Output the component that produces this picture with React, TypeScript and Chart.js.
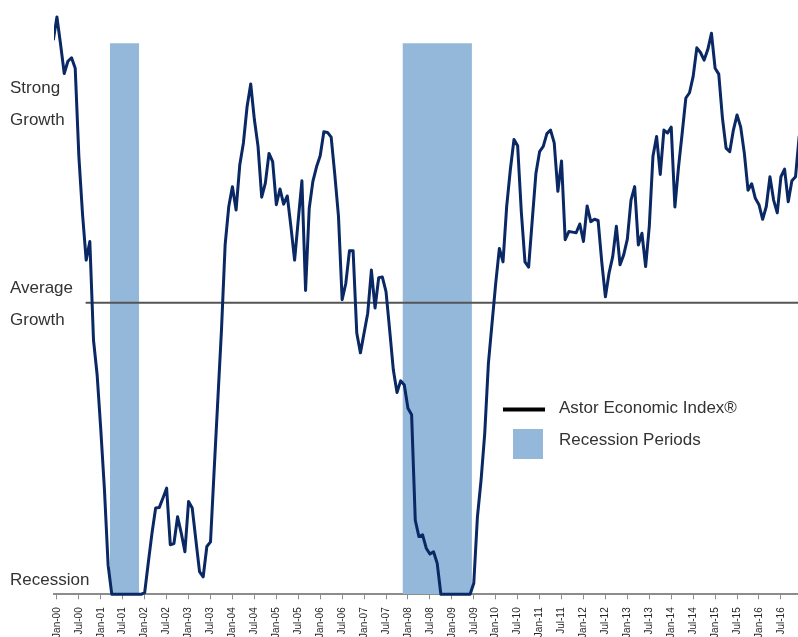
import React, { useEffect, useRef } from "react";
import { Chart, registerables } from "chart.js";

Chart.register(...registerables);

const FONT = '"Liberation Sans", Arial, Helvetica, sans-serif';
const MONTHS = ["Jan", "Feb", "Mar", "Apr", "May", "Jun", "Jul", "Aug", "Sep", "Oct", "Nov", "Dec"];

// ---- data (monthly index values, Recession = 0, Average Growth = 50) ----
const seriesStart = "Dec-99";
const idx1999 = [95.0];
const idx2000 = [99.0, 94.3, 89.3, 91.4, 92.0, 90.2, 75.1, 65.2, 57.3, 60.5, 43.6, 37.6];
const idx2001 = [28.2, 17.9, 5.0, 0, 0, 0, 0, 0, 0, 0, 0, 0];
const idx2002 = [0.3, 5.5, 10.5, 14.8, 14.9, 16.5, 18.2, 8.5, 8.7, 13.3, 10.5, 7.3];
const idx2003 = [15.9, 14.8, 9.3, 3.9, 3.0, 8.2, 9.0, 21.3, 33.3, 45.3, 59.9, 66.5];
const idx2004 = [69.9, 65.9, 73.6, 77.4, 83.6, 87.5, 81.4, 76.8, 68.1, 70.5, 75.6, 74.2];
const idx2005 = [66.8, 69.5, 66.9, 68.3, 63.0, 57.3, 64.2, 70.9, 52.1, 66.2, 70.8, 73.3];
const idx2006 = [75.2, 79.3, 79.2, 78.4, 71.9, 64.8, 50.5, 53.3, 58.9, 58.9, 44.8, 41.4];
const idx2007 = [44.8, 48.2, 55.6, 49.1, 54.3, 54.4, 51.9, 45.3, 38.5, 34.6, 36.6, 35.9];
const idx2008 = [31.9, 30.8, 12.7, 9.9, 10.2, 7.9, 6.9, 7.3, 5.3, 0, 0, 0];
const idx2009 = [0, 0, 0, 0, 0, 0, 1.9, 13.3, 19.6, 27.6, 39.6, 46.5];
const idx2010 = [53.3, 59.3, 57.0, 66.5, 72.8, 78.0, 76.9, 65.6, 57.0, 56.1, 64.2, 72.2];
const idx2011 = [75.9, 76.8, 79.0, 79.6, 77.4, 69.1, 74.3, 60.8, 62.2, 62.1, 62.0, 63.5];
const idx2012 = [60.5, 66.6, 63.9, 64.3, 64.1, 57.0, 51.0, 55.1, 57.9, 63.1, 56.5, 58.2];
const idx2013 = [60.9, 67.6, 69.9, 59.9, 61.9, 56.2, 63.1, 75.1, 78.5, 72.0, 79.6, 79.1];
const idx2014 = [80.1, 66.4, 73.3, 79.1, 85.1, 86.0, 88.8, 93.7, 92.9, 91.6, 93.4, 96.2];
const idx2015 = [90.2, 89.2, 81.7, 76.5, 75.9, 79.6, 82.2, 80.1, 75.6, 69.3, 70.4, 67.9];
const idx2016 = [66.8, 64.3, 66.5, 71.6, 67.6, 65.4, 71.6, 72.9, 67.3, 70.9, 71.6, 78.6];

const tickLabels = [
  "Jan-00", "Jul-00", "Jan-01", "Jul-01", "Jan-02", "Jul-02", "Jan-03", "Jul-03",
  "Jan-04", "Jul-04", "Jan-05", "Jul-05", "Jan-06", "Jul-06", "Jan-07", "Jul-07",
  "Jan-08", "Jul-08", "Jan-09", "Jul-09", "Jan-10", "Jul-10", "Jan-11", "Jul-11",
  "Jan-12", "Jul-12", "Jan-13", "Jul-13", "Jan-14", "Jul-14", "Jan-15", "Jul-15",
  "Jan-16", "Jul-16",
];

const recessionPeriods = [
  ["Apr-01", "Nov-01"],
  ["Dec-07", "Jun-09"],
];
const recessionLevel = 94.5;
const averageGrowthLevel = 50;
const averageLineStart = 7.85; // months after Jan-00

const yLevelValues = [2.4, 49.7, 84.0];
const yLevelLabels = [["Recession"], ["Average", "Growth"], ["Strong", "Growth"]];

const seriesLabel = "Astor Economic Index\u00AE";
const recessionLabel = "Recession Periods";

// ---- helpers ----
function monthIndex(label: string): number {
  const [mon, yy] = label.split("-");
  let y = Number(yy);
  if (y >= 50) y -= 100;
  return y * 12 + MONTHS.indexOf(mon);
}

const allValues = [
  ...idx1999, ...idx2000, ...idx2001, ...idx2002, ...idx2003, ...idx2004, ...idx2005,
  ...idx2006, ...idx2007, ...idx2008, ...idx2009, ...idx2010, ...idx2011, ...idx2012,
  ...idx2013, ...idx2014, ...idx2015, ...idx2016,
];

const LINE_COLOR = "#0a2864";
const RECESSION_COLOR = "#94b8da";
const TEXT_COLOR = "#333333";

const X_MIN = -0.8;
const X_MAX = 206.5;
const CANVAS_W = 812;
const CANVAS_H = 650;
const PLOT_LEFT = 54;
const PLOT_BOTTOM = 594.3;
const Y_LABEL_X = 10;
const Y_LABEL_LINE_HEIGHT = 31.6;

const labelsPlugin = {
  id: "astorLabels",
  afterDraw(chart: any) {
    const ctx = chart.ctx as CanvasRenderingContext2D;
    const ds = chart.data.datasets;
    const yScale = chart.scales.y;
    ctx.save();
    ctx.font = `17px ${FONT}`;
    ctx.textAlign = "left";

    // y level labels
    ctx.fillStyle = TEXT_COLOR;
    ctx.textBaseline = "middle";
    yLevelValues.forEach((v, i) => {
      const lines = yLevelLabels[i];
      const cy = yScale.getPixelForValue(v);
      const y0 = cy - ((lines.length - 1) * Y_LABEL_LINE_HEIGHT) / 2;
      lines.forEach((t, j) => ctx.fillText(t, Y_LABEL_X, y0 + j * Y_LABEL_LINE_HEIGHT));
    });

    // legend
    ctx.textBaseline = "alphabetic";
    ctx.strokeStyle = "#000000";
    ctx.lineWidth = 4;
    ctx.beginPath();
    ctx.moveTo(503, 409.5);
    ctx.lineTo(545, 409.5);
    ctx.stroke();
    ctx.fillStyle = TEXT_COLOR;
    ctx.fillText(ds[0].label, 559, 413);
    ctx.fillStyle = RECESSION_COLOR;
    ctx.fillRect(513, 429, 30, 30);
    ctx.fillStyle = TEXT_COLOR;
    ctx.fillText(ds[2].label, 559, 445);
    ctx.restore();
  },
};

export default function App() {
  const canvasRef = useRef<HTMLCanvasElement | null>(null);

  useEffect(() => {
    const canvas = canvasRef.current;
    if (!canvas) return;
    Chart.defaults.font.family = FONT;

    const start = monthIndex(seriesStart);
    const lineData = allValues.map((v, k) => ({ x: start + k, y: v }));

    const recessionData: any[] = [];
    recessionPeriods.forEach(([from, to], k) => {
      if (k > 0) recessionData.push({ x: monthIndex(from) - 0.75, y: null });
      recessionData.push({ x: monthIndex(from) - 0.5, y: recessionLevel });
      recessionData.push({ x: monthIndex(to) + 0.5, y: recessionLevel });
    });

    const avgData = [
      { x: averageLineStart, y: averageGrowthLevel },
      { x: X_MAX, y: averageGrowthLevel },
    ];

    const chart = new Chart(canvas, {
      type: "line",
      data: {
        datasets: [
          {
            label: seriesLabel,
            data: lineData,
            borderColor: LINE_COLOR,
            borderWidth: 3,
            pointRadius: 0,
            tension: 0,
            borderJoinStyle: "round",
            fill: false,
            order: 0,
            clip: { left: 0, top: 4, right: 0, bottom: 4 } as any,
          },
          {
            label: "Average Growth",
            data: avgData,
            borderColor: "#555555",
            borderWidth: 2,
            pointRadius: 0,
            fill: false,
            order: 1,
          },
          {
            label: recessionLabel,
            data: recessionData,
            borderColor: "rgba(0,0,0,0)",
            borderWidth: 0,
            backgroundColor: RECESSION_COLOR,
            pointRadius: 0,
            fill: "origin",
            spanGaps: false,
            order: 2,
          },
        ],
      },
      options: {
        animation: false,
        responsive: false,
        devicePixelRatio: 1,
        layout: { padding: { left: PLOT_LEFT, top: 11.1, right: 0, bottom: 0 } },
        plugins: {
          legend: { display: false },
          tooltip: { enabled: false },
        },
        scales: {
          x: {
            type: "linear",
            min: X_MIN,
            max: X_MAX,
            offset: false,
            afterBuildTicks: (scale: any) => {
              scale.ticks = tickLabels.map((_, k) => ({ value: k * 6 }));
            },
            afterFit: (scale: any) => {
              scale.height = CANVAS_H - PLOT_BOTTOM;
              scale.paddingLeft = 0;
              scale.paddingRight = 0;
            },
            ticks: {
              autoSkip: false,
              minRotation: 90,
              maxRotation: 90,
              padding: 8,
              color: "#262626",
              font: { size: 10, family: FONT },
              callback: (_v: any, i: number) => tickLabels[i],
            },
            grid: {
              display: true,
              drawOnChartArea: false,
              drawTicks: true,
              tickLength: 5,
              color: "#8c8c8c",
              lineWidth: 1,
            },
            border: { display: true, color: "#8c8c8c", width: 2 },
          },
          y: {
            type: "linear",
            display: false,
            min: 0,
            max: 100,
          },
        },
      },
      plugins: [labelsPlugin],
    });

    return () => chart.destroy();
  }, []);

  return (
    <div
      style={{
        position: "fixed",
        left: 0,
        top: 0,
        width: 798,
        height: 637,
        overflow: "hidden",
        background: "#ffffff",
      }}
    >
      <canvas
        ref={canvasRef}
        width={CANVAS_W}
        height={CANVAS_H}
        style={{ width: CANVAS_W, height: CANVAS_H, display: "block" }}
      />
    </div>
  );
}
